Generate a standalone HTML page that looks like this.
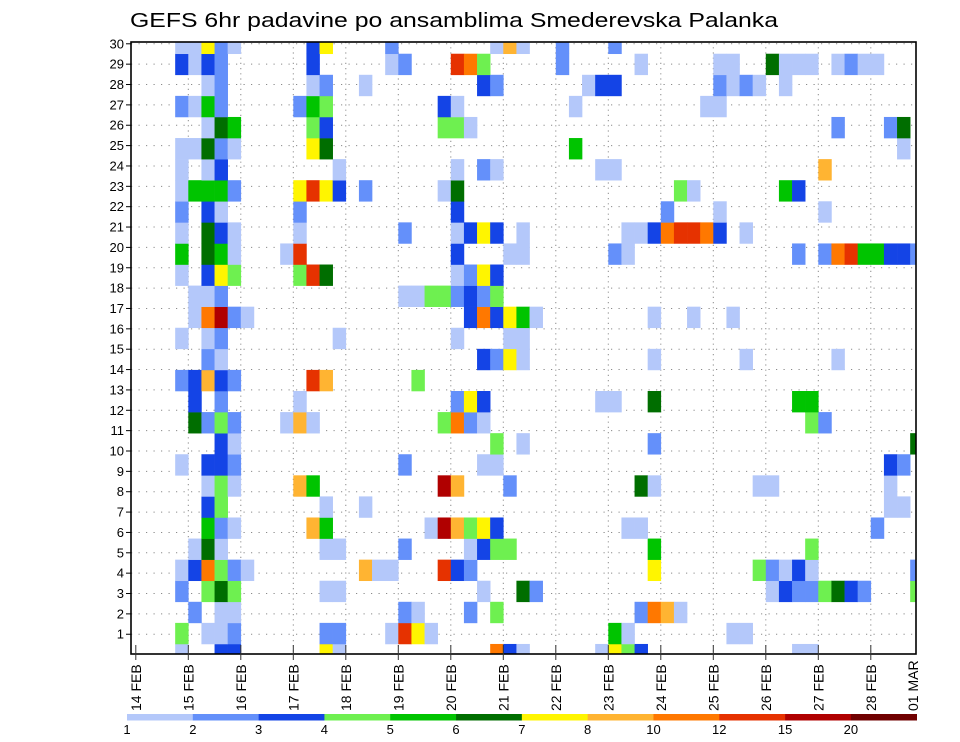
<!DOCTYPE html>
<html><head><meta charset="utf-8">
<style>
html,body{margin:0;padding:0;background:#fff;}
svg{display:block;font-family:"Liberation Sans",sans-serif;}
</style></head>
<body>
<svg id="chart" width="960" height="742" viewBox="0 0 960 742" xmlns="http://www.w3.org/2000/svg">
<text x="130" y="27" font-size="20" textLength="648" lengthAdjust="spacingAndGlyphs">GEFS 6hr padavine po ansamblima Smederevska Palanka</text>
<defs><clipPath id="plotclip"><rect x="131" y="42" width="785" height="612"/></clipPath></defs>
<g id="grid"></g>
<g id="cells" clip-path="url(#plotclip)"></g>
<rect x="131" y="42" width="785" height="612" fill="none" stroke="#000" stroke-width="1.6"/>
<g id="axes"></g>
<g id="legend"></g>
</svg>
<script>
// ---- data ----
const dayLabels = ["14 FEB","15 FEB","16 FEB","17 FEB","18 FEB","19 FEB","20 FEB","21 FEB","22 FEB","23 FEB","24 FEB","25 FEB","26 FEB","27 FEB","28 FEB","01 MAR"];
const memberLabels = [1,2,3,4,5,6,7,8,9,10,11,12,13,14,15,16,17,18,19,20,21,22,23,24,25,26,27,28,29,30];
const levels = [1,2,3,4,5,6,7,8,10,12,15,20];
const levelColors = ["#b4c8fa","#6490fa","#1444e6","#6ef050","#00c400","#006e00","#fff500","#ffb432","#ff7800","#e63200","#b00000","#700000"];
// precipitation per ensemble row: [6-hour step index, mm]
const precip = [
 [[4,1.5],[7,3.5],[8,3.5],[15,7.5],[16,1.5],[28,11],[29,3.5],[30,1.5],[36,1.5],[37,7.5],[38,4.5],[39,3.5],[51,1.5],[52,1.5]],
 [[4,4.5],[6,1.5],[7,1.5],[8,2.5],[15,2.5],[16,2.5],[20,1.5],[21,13.5],[22,7.5],[23,1.5],[37,5.5],[38,1.5],[46,1.5],[47,1.5]],
 [[5,2.5],[7,1.5],[8,1.5],[21,2.5],[22,1.5],[26,2.5],[28,4.5],[39,2.5],[40,11],[41,9],[42,1.5]],
 [[4,2.5],[6,4.5],[7,6.5],[8,4.5],[15,1.5],[16,1.5],[27,1.5],[30,6.5],[31,2.5],[49,1.5],[50,3.5],[51,2.5],[52,2.5],[53,4.5],[54,6.5],[55,3.5],[56,2.5],[60,4.5]],
 [[4,1.5],[5,3.5],[6,11],[7,4.5],[8,2.5],[9,1.5],[18,9],[19,1.5],[20,1.5],[24,13.5],[25,3.5],[26,2.5],[40,7.5],[48,4.5],[49,2.5],[50,1.5],[51,3.5],[52,1.5],[60,2.5]],
 [[5,1.5],[6,6.5],[7,1.5],[15,1.5],[16,1.5],[21,2.5],[26,1.5],[27,3.5],[28,4.5],[29,4.5],[40,5.5],[52,4.5]],
 [[6,5.5],[7,2.5],[8,1.5],[14,9],[15,5.5],[23,1.5],[24,17.5],[25,9],[26,4.5],[27,7.5],[28,3.5],[38,1.5],[39,1.5],[57,2.5]],
 [[6,3.5],[7,4.5],[15,1.5],[18,1.5],[58,1.5],[59,1.5]],
 [[6,1.5],[7,4.5],[8,1.5],[13,9],[14,5.5],[24,17.5],[25,9],[29,2.5],[39,6.5],[40,1.5],[48,1.5],[49,1.5],[58,1.5]],
 [[4,1.5],[6,3.5],[7,3.5],[8,2.5],[21,2.5],[27,1.5],[28,1.5],[58,3.5],[59,2.5]],
 [[7,3.5],[8,1.5],[28,4.5],[30,1.5],[40,2.5],[60,6.5]],
 [[5,6.5],[6,2.5],[7,4.5],[8,2.5],[12,1.5],[13,9],[14,1.5],[24,4.5],[25,11],[26,2.5],[27,1.5],[52,4.5],[53,2.5]],
 [[5,3.5],[7,2.5],[13,1.5],[25,2.5],[26,7.5],[27,3.5],[36,1.5],[37,1.5],[40,6.5],[51,5.5],[52,5.5]],
 [[4,2.5],[5,3.5],[6,9],[7,3.5],[8,2.5],[14,13.5],[15,9],[22,4.5]],
 [[6,2.5],[7,1.5],[27,3.5],[28,2.5],[29,7.5],[30,1.5],[40,1.5],[47,1.5],[54,1.5]],
 [[4,1.5],[6,1.5],[7,2.5],[16,1.5],[25,1.5],[29,1.5],[30,1.5]],
 [[5,1.5],[6,11],[7,17.5],[8,2.5],[9,1.5],[26,3.5],[27,11],[28,3.5],[29,7.5],[30,5.5],[31,1.5],[40,1.5],[43,1.5],[46,1.5]],
 [[5,1.5],[6,1.5],[7,2.5],[21,1.5],[22,1.5],[23,4.5],[24,4.5],[25,2.5],[26,3.5],[27,2.5],[28,4.5]],
 [[4,1.5],[6,3.5],[7,7.5],[8,4.5],[13,4.5],[14,13.5],[15,6.5],[25,1.5],[26,2.5],[27,7.5],[28,3.5]],
 [[4,5.5],[6,6.5],[7,5.5],[8,1.5],[12,1.5],[13,13.5],[25,3.5],[29,1.5],[30,1.5],[37,2.5],[38,1.5],[51,2.5],[53,2.5],[54,11],[55,13.5],[56,5.5],[57,5.5],[58,3.5],[59,3.5],[60,2.5]],
 [[4,1.5],[6,6.5],[7,3.5],[8,1.5],[13,1.5],[21,2.5],[25,1.5],[26,3.5],[27,7.5],[28,3.5],[30,1.5],[38,1.5],[39,1.5],[40,3.5],[41,11],[42,13.5],[43,13.5],[44,11],[45,3.5],[47,1.5]],
 [[4,2.5],[6,3.5],[7,1.5],[13,2.5],[25,3.5],[41,2.5],[45,1.5],[53,1.5]],
 [[4,1.5],[5,5.5],[6,5.5],[7,5.5],[8,2.5],[13,7.5],[14,13.5],[15,7.5],[16,3.5],[18,2.5],[24,1.5],[25,6.5],[42,4.5],[43,1.5],[50,5.5],[51,3.5]],
 [[4,1.5],[6,1.5],[7,3.5],[16,1.5],[25,1.5],[27,2.5],[28,1.5],[36,1.5],[37,1.5],[53,9]],
 [[4,1.5],[5,1.5],[6,6.5],[7,2.5],[8,1.5],[14,7.5],[15,6.5],[34,5.5],[59,1.5]],
 [[6,1.5],[7,6.5],[8,5.5],[14,4.5],[15,3.5],[24,4.5],[25,4.5],[26,1.5],[54,2.5],[58,2.5],[59,6.5]],
 [[4,2.5],[5,1.5],[6,5.5],[7,2.5],[13,2.5],[14,5.5],[15,4.5],[24,3.5],[25,1.5],[34,1.5],[44,1.5],[45,1.5]],
 [[6,1.5],[7,2.5],[14,1.5],[15,2.5],[18,1.5],[27,3.5],[28,2.5],[35,1.5],[36,3.5],[37,3.5],[45,2.5],[46,1.5],[47,2.5],[48,1.5],[50,1.5]],
 [[4,3.5],[5,1.5],[6,3.5],[7,2.5],[14,3.5],[20,1.5],[21,2.5],[25,13.5],[26,11],[27,4.5],[33,2.5],[39,1.5],[45,1.5],[46,1.5],[49,6.5],[50,1.5],[51,1.5],[52,1.5],[54,1.5],[55,2.5],[56,1.5],[57,1.5]],
 [[4,1.5],[5,1.5],[6,7.5],[7,2.5],[8,1.5],[14,3.5],[15,7.5],[20,2.5],[28,1.5],[29,9],[30,1.5],[33,2.5],[37,2.5]]
];

// ---- scales ----
const NS = "http://www.w3.org/2000/svg";
const X0 = 135.8, PXH = 52.5/24;          // x of 14 FEB 00Z, px per hour
function xOfHour(h){ return X0 + h*PXH; }
const ROWH = 21.08, ROW0 = 654.5;          // ensemble row centers
function yOfRow(r){ return ROW0 - r*ROWH; }
const LAB0 = 654.6, LABH = 20.36;          // member label positions
function yOfLabel(k){ return LAB0 - k*LABH; }
function colorOf(v){
  let idx = -1;
  for (let i=0;i<levels.length;i++){ if (v>=levels[i]) idx=i; }
  return idx<0 ? null : levelColors[idx];
}
function mk(tag, attrs, parent){
  const e = document.createElementNS(NS, tag);
  for (const k in attrs) e.setAttribute(k, attrs[k]);
  parent.appendChild(e); return e;
}

// ---- grid ----
const grid = document.getElementById("grid");
for (let k=1;k<=memberLabels.length;k++){
  const y = yOfLabel(k);
  const l = mk("line",{x1:131,x2:916,y1:y,y2:y,stroke:"#8a8a8a","stroke-width":1,"stroke-dasharray":"1.2 6.3"},grid);
  
  
}
for (let d=1; d<dayLabels.length-1; d++){
  const x = xOfHour(24*d);
  const l = mk("line",{x1:x,x2:x,y1:42,y2:654,stroke:"#8a8a8a","stroke-width":1,"stroke-dasharray":"1.2 4"},grid);
  
  
}

// ---- cells ----
const cells = document.getElementById("cells");
precip.forEach((row, r) => {
  row.forEach(([j, v]) => {
    const c = colorOf(v); if (!c) return;
    const x1 = xOfHour(6*j-6), x2 = xOfHour(6*j);
    const yc = yOfRow(r);
    const rect = mk("rect",{x:x1,y:yc-ROWH/2,width:x2-x1+0.3,height:ROWH+0.3,fill:c},cells);
    
    
  });
});

// ---- axes ----
const axes = document.getElementById("axes");
memberLabels.forEach((m, i) => {
  const y = yOfLabel(i+1);
  const t = mk("line",{x1:126,x2:131,y1:y,y2:y,stroke:"#000","stroke-width":1},axes);
  
  
  const tx = mk("text",{x:124,y:y+4.5,"font-size":13,"text-anchor":"end"},axes);
  tx.textContent = m;
  
  
});
dayLabels.forEach((lab, d) => {
  let x = xOfHour(24*d);
  if (d === dayLabels.length-1) { x = 913; }
  else {
    const t = mk("line",{x1:x,x2:x,y1:645,y2:660,stroke:"#333","stroke-width":1},axes);
    
    
  }
  const tx = mk("text",{x:0,y:0,"font-size":14,"text-anchor":"start",transform:`translate(${x+5},711) rotate(-90)`},axes);
  tx.textContent = lab;
  
  
});

// ---- legend ----
const legend = document.getElementById("legend");
const LX0 = 127, LX1 = 916.7, segW = (LX1-LX0)/levels.length;
levelColors.forEach((c, i) => {
  const r = mk("rect",{x:LX0+i*segW,y:714,width:segW+0.3,height:6.5,fill:c},legend);
  
  
});
levels.forEach((lv, i) => {
  const t = mk("text",{x:LX0+i*segW,y:734,"font-size":13,"text-anchor":"middle"},legend);
  t.textContent = lv;
  
  
});
</script>
</body></html>
